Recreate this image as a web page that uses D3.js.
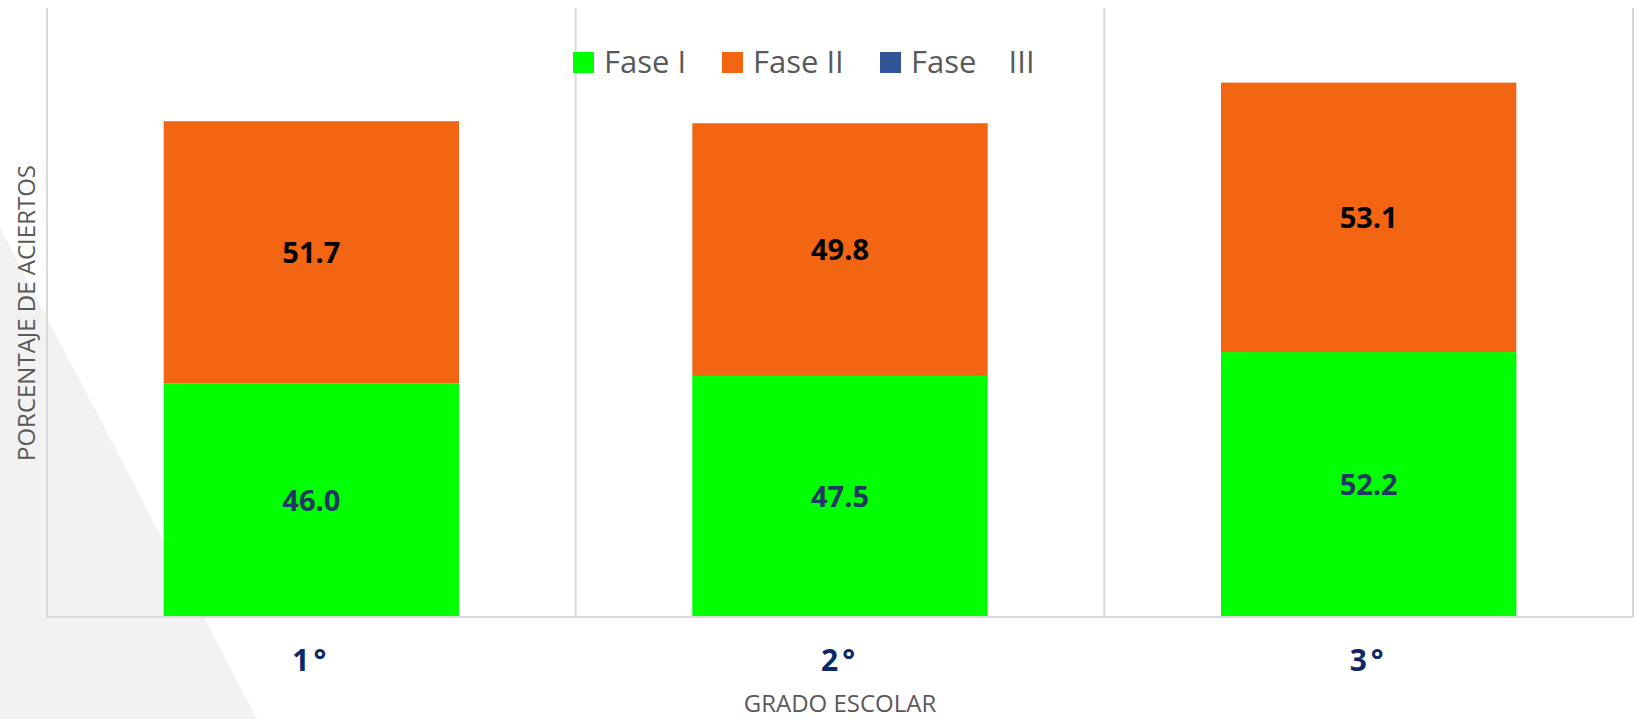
<!DOCTYPE html>
<html>
<head>
<meta charset="utf-8">
<script src="https://cdn.jsdelivr.net/npm/d3@7"></script>
<style>
  html, body { margin: 0; padding: 0; background: #fff; }
  svg { display: block; }
</style>
</head>
<body>
<div id="chart"></div>
<script>
// Barras apiladas: porcentaje de aciertos por grado escolar y fase
const grados = ["1°", "2°", "3°"];
const series = ["Fase I", "Fase II", "Fase    III"];
const faseI = [46.0, 47.5, 52.2];
const faseII = [51.7, 49.8, 53.1];
const faseIII = [null, null, null]; // sin datos, sólo en la leyenda
const colores = ["#00ff00", "#f26513", "#2f5597"];
const colorEtiqueta = ["#203864", "#000000", "#ffffff"];
const yMax = 120;

(() => {
  const W = 1636, H = 719;
  const L = 47, R = 1633, T = 8, B = 617;
  const FONT = "'Open Sans', 'Noto Sans', sans-serif";

  const svg = d3.select("#chart").append("svg")
    .attr("width", W).attr("height", H)
    .attr("viewBox", `0 0 ${W} ${H}`);

  // fondo: triángulo gris a la izquierda
  svg.append("path")
    .attr("d", `M0,228 L257,${H} L0,${H} Z`)
    .attr("fill", "#f2f2f2");

  const x = d3.scaleBand().domain(grados).range([L, R]).padding(0);
  const y = d3.scaleLinear().domain([0, yMax]).range([B, T]);
  const barW = x.bandwidth() / 1.79;

  // líneas de división de categorías
  const bordes = grados.map(g => x(g)).concat([R]);
  svg.append("g").selectAll("line").data(bordes).join("line")
    .attr("x1", d => d).attr("x2", d => d)
    .attr("y1", T).attr("y2", B)
    .attr("stroke", "#d9d9d9").attr("stroke-width", 2);

  const filas = grados.map((g, i) => ({ grado: g, s0: faseI[i], s1: faseII[i], s2: faseIII[i] || 0 }));
  const stack = d3.stack().keys(["s0", "s1", "s2"]);
  const capas = stack(filas);

  const gBars = svg.append("g");
  capas.forEach((capa, k) => {
    const vals = [faseI, faseII, faseIII][k];
    capa.forEach((d, i) => {
      if (vals[i] == null) return;
      const cx = x(d.data.grado) + x.bandwidth() / 2;
      gBars.append("rect")
        .attr("x", cx - barW / 2).attr("width", barW)
        .attr("y", y(d[1])).attr("height", y(d[0]) - y(d[1]))
        .attr("fill", colores[k]);
      gBars.append("text")
        .attr("x", cx).attr("y", (y(d[0]) + y(d[1])) / 2)
        .attr("dy", "0.36em")
        .attr("text-anchor", "middle")
        .attr("style", `font:700 29px ${FONT};fill:${colorEtiqueta[k]}`)
        .text(vals[i].toFixed(1));
    });
  });

  // eje x
  svg.append("line")
    .attr("x1", L).attr("x2", R).attr("y1", B).attr("y2", B)
    .attr("stroke", "#d9d9d9").attr("stroke-width", 2);
  svg.append("g").selectAll("text").data(grados).join("text")
    .attr("x", d => x(d) + x.bandwidth() / 2)
    .attr("y", 671)
    .attr("text-anchor", "middle")
    .attr("style", `font:700 30px ${FONT};fill:#0c2869;letter-spacing:4px`)
    .text(d => d);

  // títulos de ejes
  svg.append("text")
    .attr("x", (L + R) / 2).attr("y", 712)
    .attr("text-anchor", "middle")
    .attr("style", `font:24px ${FONT};fill:#595959`)
    .text("GRADO ESCOLAR");
  svg.append("text")
    .attr("transform", `translate(35,313) rotate(-90)`)
    .attr("text-anchor", "middle")
    .attr("style", `font:24px ${FONT};fill:#595959`)
    .text("PORCENTAJE DE ACIERTOS");

  // leyenda
  const legX = [573, 722, 880];
  const leg = svg.append("g");
  series.forEach((s, k) => {
    leg.append("rect")
      .attr("x", legX[k]).attr("y", 52).attr("width", 21).attr("height", 21)
      .attr("fill", colores[k]);
    leg.append("text")
      .attr("x", legX[k] + 31).attr("y", 73)
      .attr("style", `font:31px ${FONT};fill:#595959;white-space:pre`)
      .text(s);
  });
})();
</script>
</body>
</html>
